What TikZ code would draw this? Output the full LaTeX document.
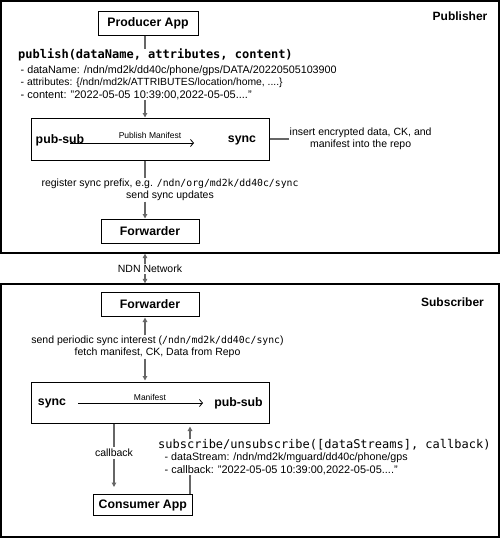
\documentclass[tikz,border=0pt]{standalone}
\usepackage{graphicx}
\usepackage{fontspec}
\setmainfont{Liberation Sans}
\setmonofont{DejaVu Sans Mono}
\usetikzlibrary{arrows.meta}
\definecolor{linegray}{HTML}{666666}
\newcommand{\inmono}[1]{{\fontsize{9.8}{12}\selectfont\ttfamily #1}}
\newcommand{\fitw}[2]{\resizebox{#1}{!}{#2}}
\begin{document}
\begin{tikzpicture}[x=1pt,y=-1pt,
  frame/.style={draw=black, line width=1.3pt, inner sep=0pt},
  appbox/.style={draw=black, line width=1pt, inner sep=0pt, font=\fontsize{12.3}{14}\selectfont\bfseries},
  bold/.style={inner sep=0pt, font=\fontsize{12.3}{14}\selectfont\bfseries},
  txt/.style={inner sep=0.5pt, font=\fontsize{10.5}{12}\selectfont},
  bullet/.style={inner sep=0.5pt, font=\fontsize{10.5}{12}\selectfont},
  small/.style={inner sep=0.5pt, font=\fontsize{8.5}{10}\selectfont},
  mono/.style={inner sep=0pt, font=\fontsize{12}{14}\selectfont\ttfamily},
  conn/.style={draw=linegray, line width=1.3pt},
  arr/.style={conn, -{Triangle[length=4.5pt,width=4.5pt]}},
  arrboth/.style={conn, {Triangle[length=4.5pt,width=4.5pt]}-{Triangle[length=4.5pt,width=4.5pt]}},
  thinarr/.style={draw=black, line width=0.8pt, -{Straight Barb[length=3pt,width=7pt]}}
]
\useasboundingbox (0,0) rectangle (500,538);

% frames
\node[frame, minimum width=498pt, minimum height=252pt] (pubframe) at (250,127) {};
\node[frame, minimum width=498pt, minimum height=253pt] (subframe) at (250,410.5) {};
\node[bold, font=\fontsize{12}{14}\selectfont\bfseries] (publbl) at (460,16) {Publisher};
\node[bold, font=\fontsize{12}{14}\selectfont\bfseries] (sublbl) at (452.5,302) {Subscriber};

\coordinate (col) at (145,0);

% ---------------- Publisher
\node[appbox, minimum width=100pt, minimum height=24pt] (prod) at (148,23) {Producer App};
\node[anchor=west, mono, font=\fontsize{12}{14}\selectfont\ttfamily\bfseries] (pubhead) at (18,55) {publish(dataName, attributes, content)};
\node[anchor=west, bullet] (pb1) at (20,71) {\fitw{316pt}{- dataName: /ndn/md2k/dd40c/phone/gps/DATA/20220505103900}};
\node[anchor=west, bullet] (pb2) at (20,83) {\fitw{262pt}{- attributes: \{/ndn/md2k/ATTRIBUTES/location/home, ....\}}};
\node[anchor=west, bullet] (pb3) at (20,95) {\fitw{231pt}{- content: "2022-05-05 10:39:00,2022-05-05...."}};

\node[draw=black, line width=1pt, minimum width=238pt, minimum height=42pt, inner sep=0pt] (box1) at (150,139) {};
\node[bold] (ps1lbl) at (60,140) {pub-sub};
\node[bold] (sy1lbl) at (242,140) {sync};
\coordinate (pm1) at (70,143);
\coordinate (pm2) at (194,143);
\draw[thinarr] (pm1) -- (pm2);
\node[small] (pmlbl) at (150,135) {Publish Manifest};

\node[txt, align=center, anchor=west] (ins) at (289,139) {insert encrypted data, CK, and\\manifest into the repo};
\draw[conn] (box1.east) -- (ins.west);

\node[txt, align=center] (reg) at (170,190) {register sync prefix, e.g. \inmono{/ndn/org/md2k/dd40c/sync}\\send sync updates};
\node[appbox, minimum width=98pt, minimum height=24pt] (fwd1) at (150,231) {Forwarder};

\draw[conn] (col |- prod.south) -- (col |- pubhead.north);
\draw[arr] (col |- pb3.south) -- (col |- box1.north);
\draw[conn] (col |- box1.south) -- (col |- reg.north);
\draw[arr] (col |- reg.south) -- (col |- fwd1.north);

% ---------------- network
\draw[arrboth] (col |- pubframe.south) -- (col |- subframe.north);
\node[txt, fill=white, inner sep=1pt] (ndn) at (150,269) {NDN Network};

% ---------------- Subscriber
\node[appbox, minimum width=98pt, minimum height=24pt] (fwd2) at (150,304) {Forwarder};
\node[txt, align=center] (per) at (157.5,347) {send periodic sync interest (\inmono{/ndn/md2k/dd40c/sync})\\fetch manifest, CK, Data from Repo};
\node[draw=black, line width=1pt, minimum width=238pt, minimum height=41pt, inner sep=0pt] (box2) at (150,402.5) {};
\node[bold] (sy2lbl) at (52,403) {sync};
\node[bold] (ps2lbl) at (238.5,403) {pub-sub};
\coordinate (mf1) at (78,403);
\coordinate (mf2) at (203,403);
\draw[thinarr] (mf1) -- (mf2);
\node[small] (mflbl) at (150,397) {Manifest};

\draw[arr, shorten >=1pt] (col |- per.north) -- (col |- fwd2.south);
\draw[arr, shorten >=1pt] (col |- per.south) -- (col |- box2.north);

\node[appbox, minimum width=99pt, minimum height=21pt] (cons) at (142.8,505) {Consumer App};
\coordinate (cbx) at (114,0);
\draw[arr, shorten >=7pt] (cbx |- box2.south) -- node[txt, fill=white, pos=0.42, inner sep=2pt] (cblbl) {callback} (cbx |- cons.north);

\node[anchor=west, mono] (subhead) at (158,445) {subscribe/unsubscribe([dataStreams], callback)};
\node[anchor=west, bullet] (sb1) at (164,458) {\fitw{243pt}{- dataStream: /ndn/md2k/mguard/dd40c/phone/gps}};
\node[anchor=west, bullet] (sb2) at (164,470) {\fitw{233pt}{- callback: "2022-05-05 10:39:00,2022-05-05...."}};
\coordinate (upx) at (190,0);
\draw[conn] (upx |- cons.north) -- (upx |- sb2.south);
\draw[arr, shorten >=3pt] (upx |- subhead.north) -- (upx |- box2.south);
\end{tikzpicture}
\end{document}
